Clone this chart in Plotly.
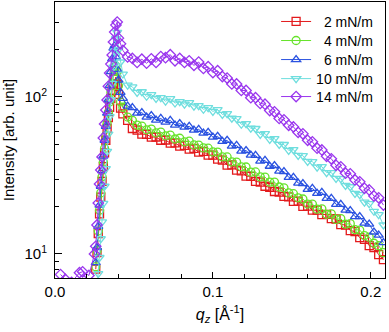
import plotly.graph_objects as go

# q_z grid [1/Å]
q = [0.0035, 0.0065, 0.0105, 0.0155, 0.0175, 0.0215,
     0.0250, 0.0258, 0.0266, 0.0274, 0.0282, 0.0290, 0.0298, 0.0306, 0.0314, 0.0322,
     0.0330, 0.0338, 0.0346, 0.0354, 0.0362, 0.0370, 0.0378, 0.0386, 0.0394, 0.0402,
     0.0415,
     0.043, 0.046, 0.049, 0.052, 0.055, 0.058, 0.061, 0.064,
     0.067, 0.070, 0.073, 0.076, 0.079, 0.082, 0.085, 0.088,
     0.091, 0.094, 0.097, 0.100, 0.103, 0.106, 0.109, 0.112,
     0.115, 0.118, 0.121, 0.124, 0.127, 0.130, 0.133, 0.136,
     0.139, 0.142, 0.145, 0.148, 0.151, 0.154, 0.157, 0.160,
     0.163, 0.166, 0.169, 0.172, 0.175, 0.178, 0.181, 0.184,
     0.187, 0.190, 0.193, 0.196, 0.199, 0.202, 0.205, 0.208]

I_2 = [None] * 6 + [
    None, 8.0, 10.2, 13.5, 18.0, 23.0, 29.0, 36.0, 44.0, 53.0,
    63.0, 74.0, 86.0, 98.0, 110, 121, 130, 134, 120, 104,
    85,
    78, 71, 63, 61.5, 58, 57.8, 55.5, 55.6,
    53, 53.2, 50.8, 51, 48.6, 49.2, 46.5, 47,
    44.6, 45, 42.6, 42.6, 40.2, 39.6, 36.8, 36.9,
    34.2, 33.8, 31.3, 31.2, 29.0, 28.7, 27.0, 26.6,
    25.0, 24.8, 23.3, 23.1, 21.6, 21.7, 20.1, 20.2,
    19.0, 19.0, 17.8, 17.9, 16.8, 16.7, 15.4, 15.3,
    14.1, 13.9, 12.7, 12.4, 11.3, 11.0, 9.9, 9.2]

I_4 = [None] * 6 + [
    None, 8.3, 10.5, 14.0, 19.0, 24.5, 31.0, 38.5, 47.0, 57.0,
    68.0, 80.0, 93.0, 107, 121, 135, 148, 157, 145, 118,
    93,
    86, 74.5, 71, 66.2, 65.2, 61.8, 62.5, 59.0,
    59.8, 56.6, 57.2, 54.0, 54.6, 51.8, 52.3, 49.5,
    49.4, 47.4, 47.2, 44.7, 44.6, 41.5, 41.5, 38.6,
    38.5, 35.9, 35.8, 33.2, 33.3, 31.0, 30.9, 28.7,
    28.7, 26.7, 26.4, 24.5, 24.2, 22.8, 22.4, 20.8,
    20.8, 19.3, 19.4, 17.9, 18.0, 16.6, 16.8, 15.5,
    15.6, 14.3, 14.2, 13.1, 12.8, 11.7, 11.3, 10.2]

I_6 = [None] * 6 + [
    None, 8.8, 11.0, 15.0, 20.5, 27.0, 34.0, 42.0, 53.0, 65.0,
    79.0, 96.0, 118, 145, 175, 205, 212, 180, 150, 128,
    107,
    98, 87.5, 85.5, 79, 79.5, 74.5, 76.2, 71.2,
    73, 69.2, 71, 66.2, 67.8, 64.2, 65, 61.5,
    62.2, 58.8, 59.5, 55.5, 56.2, 52.2, 53, 48.6,
    49.2, 45.2, 45.6, 42.6, 42.5, 39.0, 39.5, 36.2,
    36.6, 33.7, 33.5, 30.8, 30.8, 28.3, 28.1, 25.8,
    26.2, 24.3, 24.7, 22.6, 22.6, 20.7, 20.7, 19.0,
    18.9, 17.3, 17.3, 15.7, 15.5, 13.8, 13.2, 11.8]

I_10 = [None] * 6 + [
    None, None, 6.0, 7.5, 9.5, 12.5, 16.0, 21.0, 27, 35,
    45, 58, 75, 96, 122, 155, 195, 235, 258, 200,
    167,
    140, 119, 116, 107, 108, 101, 103.5, 98,
    99, 94, 97.5, 91.5, 93.5, 90, 92, 87.5,
    88, 83.5, 85.5, 81, 83, 77.5, 78.3, 73.2,
    72.8, 67, 67.6, 63.2, 63, 57.8, 58.5, 53.7,
    54.3, 49.9, 49.8, 45.7, 46.2, 42.5, 42.3, 38.9,
    38.8, 35.7, 36, 33, 33, 30.3, 30.2, 27.3,
    26.8, 24.3, 23.9, 21.4, 20.9, 18.7, 17.8, 15.3]

I_14 = [7.4, 6.9, 6.6, 7.6, 7.7, 7.3,
    10.0, 11.2, 15.3, 21.1, 27.9, 34.3, 41.5, 54.8, 67.3, 82.6,
    95.7, 117, 142, 162, 185, 224, 259, 287, 300, 237,
    218,
    198, 180, 176, 166, 174, 164, 175, 166,
    181, 178, 186, 170, 176, 166, 170, 159,
    167, 152, 156, 143, 147, 135, 132, 121,
    121, 110, 110, 99, 99, 91, 90, 82,
    80.5, 73, 71.5, 66, 64.5, 59.5, 58.3, 53,
    51.8, 47.2, 46, 41.9, 40.4, 36.7, 35.9, 32.7,
    32.4, 29.6, 28.8, 26.2, 25.6, 23.4, 22.8, 20.5]

names = ["\u20072 mN/m", "\u20074 mN/m", "\u20076 mN/m", "10 mN/m", "14 mN/m"]
series = [I_2, I_4, I_6, I_10, I_14]
colors = ["#e31a1c", "#66e32a", "#2a52e0", "#6fdede", "#9a36ee"]
symbols = ["square-open", "circle-open", "triangle-up-open", "triangle-down-open", "diamond-open"]
legend_ids = ["legend", "legend2", "legend3", "legend4", "legend5"]
legend_y = [0.928, 0.859, 0.790, 0.721, 0.656]

fig = go.Figure()
for name, vals, c, s, lg in zip(names, series, colors, symbols, legend_ids):
    fig.add_trace(go.Scatter(
        x=q, y=vals, name=name, mode="lines+markers", legend=lg, showlegend=True,
        line=dict(color=c, width=1),
        marker=dict(symbol=s, size=8, color=c, line=dict(width=1.3, color=c)),
    ))

font = "Liberation Sans, Arial, sans-serif"
legends = {}
for lg, ly in zip(legend_ids, legend_y):
    legends[lg] = dict(x=0.67, y=ly, xanchor="left", yanchor="middle",
                       bgcolor="rgba(0,0,0,0)", font=dict(size=14))

fig.update_layout(
    width=389, height=332,
    margin=dict(l=55, r=4, t=2, b=54, autoexpand=False),
    plot_bgcolor="white", paper_bgcolor="white",
    font=dict(family=font, size=15, color="black"),
    showlegend=True,
    **legends,
)
fig.update_xaxes(
    range=[0, 0.209], showgrid=False, zeroline=False, automargin=False,
    showline=True, linecolor="black", linewidth=1, mirror=True,
    ticks="inside", ticklen=6, tickcolor="black", ticklabelstandoff=0,
    tickvals=[0, 0.1, 0.2], ticktext=["0.0", "0.1", "0.2"],
    minor=dict(ticks="inside", ticklen=4, tickcolor="black",
               tickvals=[0.02, 0.04, 0.06, 0.08, 0.12, 0.14, 0.16, 0.18]),
    title=dict(text="<i>q</i><sub><i>z</i></sub> [Å<sup>-1</sup>]",
               font=dict(size=16), standoff=9),
)
fig.update_yaxes(
    type="log", range=[0.847, 2.605], showgrid=False, zeroline=False, automargin=False,
    showline=True, linecolor="black", linewidth=1, mirror=True,
    ticks="inside", ticklen=7, tickcolor="black", ticklabelstandoff=4,
    tickvals=[10, 100], ticktext=["10<sup>1</sup>", "10<sup>2</sup>"],
    minor=dict(ticks="inside", ticklen=4, tickcolor="black",
               tickvals=[8, 9, 20, 30, 40, 50, 60, 70, 80, 90, 200, 300, 400]),
    title=dict(text="Intensity [arb. unit]", font=dict(size=15), standoff=8),
)

fig.write_html("out.html", config={"displayModeBar": False},
               post_script="document.body.style.margin='0';")
